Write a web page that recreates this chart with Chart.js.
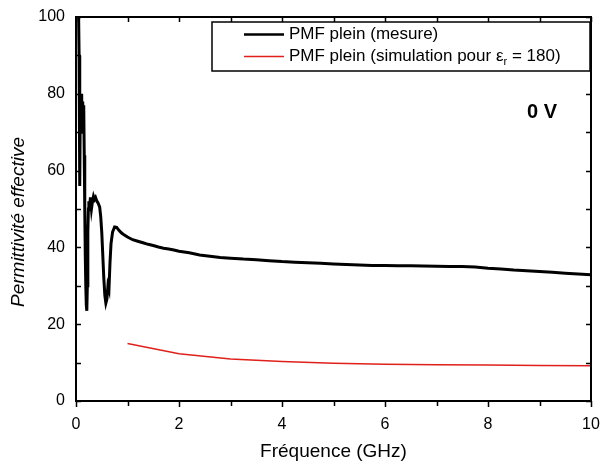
<!DOCTYPE html>
<html>
<head>
<meta charset="utf-8">
<script src="https://cdn.jsdelivr.net/npm/chart.js@4.4.1/dist/chart.umd.min.js"></script>
<style>
  html, body { margin: 0; padding: 0; background: #fff; }
  #chart { display: block; }
</style>
</head>
<body>
<canvas id="chart" width="602" height="464"></canvas>
<script>
// measured curve (GHz / effective permittivity)
const freqMes = [0.05, 0.06, 0.07, 0.075, 0.08, 0.09, 0.10, 0.11, 0.12, 0.13, 0.14, 0.15, 0.16, 0.17, 0.18, 0.19, 0.20, 0.21, 0.22, 0.23,
  0.24, 0.25, 0.26, 0.28, 0.30, 0.32, 0.34, 0.36, 0.38, 0.40, 0.43, 0.46, 0.48, 0.50, 0.52, 0.54, 0.56, 0.58, 0.60, 0.62,
  0.64, 0.66, 0.68, 0.71, 0.75, 0.79, 0.83, 0.88, 0.94, 1.0, 1.1, 1.2, 1.3, 1.4, 1.5, 1.6, 1.7, 1.8, 1.9, 2.0,
  2.2, 2.4, 2.6, 2.8, 3.0, 3.25, 3.5, 3.75, 4.0, 4.25, 4.5, 4.75, 5.0, 5.25, 5.5, 5.75, 6.0, 6.25, 6.5, 6.75,
  7.0, 7.25, 7.5, 7.75, 8.0, 8.25, 8.5, 8.75, 9.0, 9.25, 9.5, 9.75, 10.0];
const epsMes = [101, 90, 62, 56, 70, 80, 76, 80, 70, 78, 72, 77, 64, 50, 38, 30, 25, 23.5, 30, 44,
  50, 52, 49.5, 53, 50, 52, 53.3, 52.5, 53, 52.2, 51.5, 50.5, 48, 44, 38, 32, 27.5, 25.5, 26.5, 30,
  29, 36, 41, 44, 45.3, 45.2, 44.5, 43.8, 43.2, 42.7, 42.0, 41.6, 41.2, 40.8, 40.5, 40.1, 39.8, 39.6, 39.3, 39.0,
  38.6, 38.0, 37.7, 37.4, 37.2, 36.95, 36.8, 36.55, 36.3, 36.15, 36.0, 35.85, 35.7, 35.55, 35.4, 35.3, 35.3, 35.25, 35.2, 35.15,
  35.1, 35.05, 35.0, 34.9, 34.6, 34.4, 34.1, 33.9, 33.7, 33.5, 33.3, 33.1, 32.9];

// simulation (eps_r = 180)
const freqSim = [1, 2, 3, 4, 5, 6, 7, 8, 9, 10];
const epsSim = [15.0, 12.3, 10.95, 10.3, 9.85, 9.6, 9.45, 9.35, 9.25, 9.2];

const xMajorTicks = [0, 2, 4, 6, 8, 10];
const xMinorTicks = [1, 3, 5, 7, 9];
const yMajorTicks = [0, 20, 40, 60, 80, 100];
const yMinorTicks = [10, 30, 50, 70, 90];

const seriesLabels = ['PMF plein (mesure)', 'PMF plein (simulation pour ε', 'r', ' = 180)'];
const FONT = '"Liberation Sans", Arial, Helvetica, sans-serif';

Chart.defaults.font.family = FONT;
Chart.defaults.color = '#000';

// frame + inward/outward ticks like the Origin plot
const frameTicks = {
  id: 'frameTicks',
  afterDraw(chart) {
    const ctx = chart.ctx;
    const a = chart.chartArea;
    const xs = chart.scales.x, ys = chart.scales.y;
    ctx.save();
    ctx.strokeStyle = '#000';
    ctx.lineWidth = 2;
    ctx.strokeRect(a.left, a.top, a.right - a.left, a.bottom - a.top);
    ctx.lineWidth = 1.5;
    ctx.beginPath();
    xMajorTicks.concat(xMinorTicks).forEach(v => {
      const px = Math.round(xs.getPixelForValue(v)) + 0.5;
      const len = xMajorTicks.includes(v) ? 6 : 5;
      ctx.moveTo(px, a.bottom); ctx.lineTo(px, a.bottom + len);
      ctx.moveTo(px, a.top); ctx.lineTo(px, a.top + 5);
    });
    yMajorTicks.concat(yMinorTicks).forEach(v => {
      const py = Math.round(ys.getPixelForValue(v)) + 0.5;
      ctx.moveTo(a.left, py); ctx.lineTo(a.left + 5, py);
      ctx.moveTo(a.right, py); ctx.lineTo(a.right - 5, py);
    });
    ctx.stroke();
    ctx.restore();
  }
};

// legend box, "0 V" note and y title
const extras = {
  id: 'extras',
  afterDraw(chart) {
    const ctx = chart.ctx;
    ctx.save();
    ctx.fillStyle = '#fff';
    ctx.fillRect(212, 22, 378, 49);
    ctx.strokeStyle = '#000';
    ctx.lineWidth = 1.5;
    ctx.strokeRect(212, 22, 378, 49);

    ctx.lineWidth = 2.5;
    ctx.beginPath(); ctx.moveTo(244, 34.5); ctx.lineTo(284, 34.5); ctx.stroke();
    ctx.strokeStyle = '#e0201b';
    ctx.lineWidth = 1.5;
    ctx.beginPath(); ctx.moveTo(244, 56.5); ctx.lineTo(284, 56.5); ctx.stroke();

    ctx.fillStyle = '#000';
    ctx.textBaseline = 'middle';
    ctx.textAlign = 'left';
    ctx.font = '17px ' + FONT;
    ctx.fillText(seriesLabels[0], 289, 34);
    let x = 289;
    ctx.fillText(seriesLabels[1], x, 56);
    x += ctx.measureText(seriesLabels[1]).width;
    ctx.font = '11px ' + FONT;
    ctx.fillText(seriesLabels[2], x, 62);
    x += ctx.measureText(seriesLabels[2]).width;
    ctx.font = '17px ' + FONT;
    ctx.fillText(seriesLabels[3], x, 56);

    ctx.font = 'bold 20px ' + FONT;
    ctx.textAlign = 'center';
    ctx.fillText('0 V', 542, 112);

    ctx.translate(19, 222);
    ctx.rotate(-Math.PI / 2);
    ctx.font = 'italic 19px ' + FONT;
    ctx.fillText('Permittivité effective', 0, 0);
    ctx.restore();
  }
};

const mesData = freqMes.map((f, i) => ({ x: f, y: epsMes[i] }));
const simData = freqSim.map((f, i) => ({ x: f, y: epsSim[i] }));

new Chart(document.getElementById('chart'), {
  type: 'line',
  data: {
    datasets: [
      { label: 'mesure', data: mesData, borderColor: '#000', borderWidth: 3, pointRadius: 0, tension: 0, fill: false },
      { label: 'simulation', data: simData, borderColor: '#e0201b', borderWidth: 1.5, pointRadius: 0, tension: 0, fill: false }
    ]
  },
  options: {
    responsive: false,
    animation: false,
    devicePixelRatio: 1,
    layout: { padding: { top: 17, right: 11, left: 0, bottom: 0 } },
    plugins: { legend: { display: false }, tooltip: { enabled: false } },
    scales: {
      x: {
        type: 'linear', min: 0, max: 10,
        grid: { display: false },
        border: { display: false },
        ticks: { stepSize: 2, font: { size: 16 }, color: '#000', padding: 6, maxRotation: 0 },
        title: { display: true, text: 'Fréquence (GHz)', font: { size: 19 }, color: '#000', padding: { top: 0, bottom: 1 } },
        afterFit: s => { s.height = 63; s.paddingLeft = 0; s.paddingRight = 0; }
      },
      y: {
        min: 0, max: 100,
        grid: { display: false },
        border: { display: false },
        ticks: { stepSize: 20, font: { size: 16 }, color: '#000', padding: 3 },
        afterFit: s => { s.width = 76; s.paddingTop = 0; s.paddingBottom = 0; }
      }
    }
  },
  plugins: [frameTicks, extras]
});
</script>
</body>
</html>
